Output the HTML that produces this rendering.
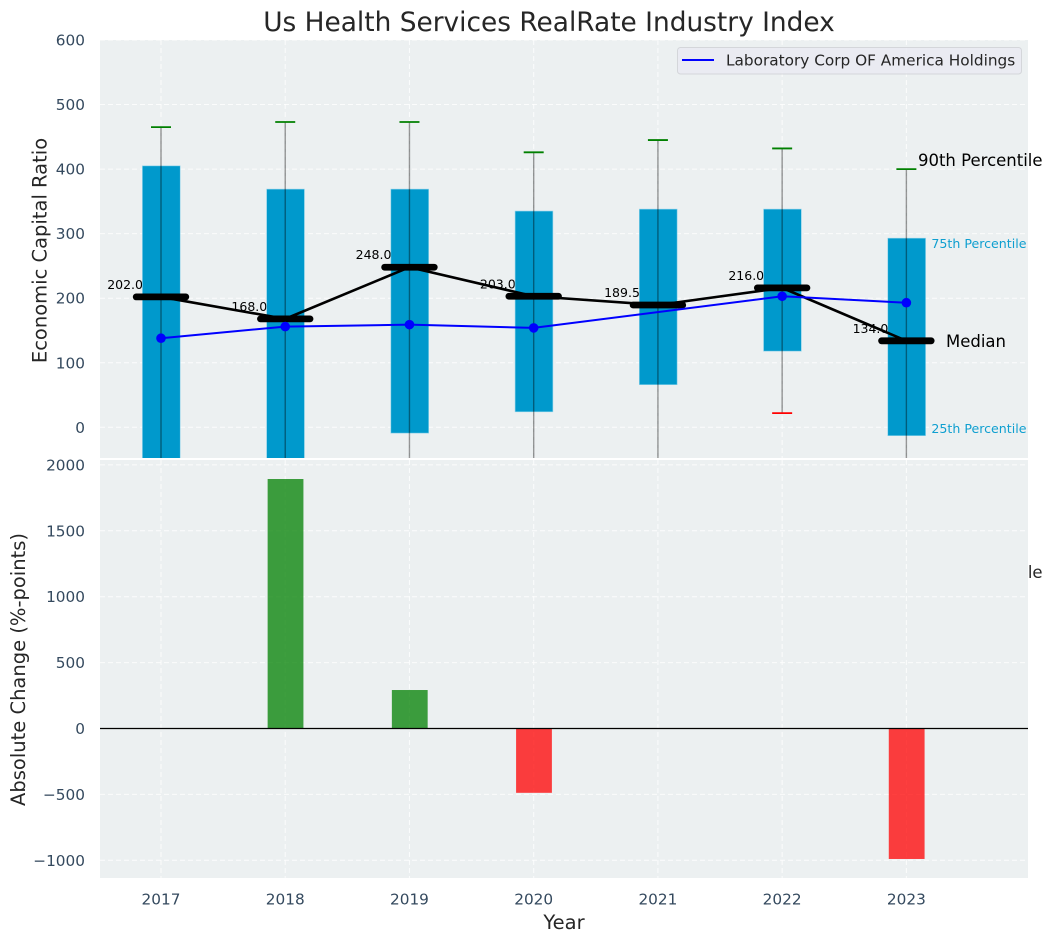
<!DOCTYPE html>
<html lang="en">
<head>
<meta charset="utf-8">
<title>Us Health Services RealRate Industry Index</title>
<style>
html,body{margin:0;padding:0;background:#fff;width:1053px;height:942px;overflow:hidden}
svg{display:block;font-family:"DejaVu Sans","Liberation Sans",sans-serif}
</style>
</head>
<body>
<svg id="chart" xmlns="http://www.w3.org/2000/svg" width="1053" height="942" viewBox="0 0 1053 942">
  <defs>
    <clipPath id="clip-top"><rect x="100" y="40" width="928" height="418"/></clipPath>
    <clipPath id="clip-bottom"><rect x="100" y="460" width="928" height="418"/></clipPath>
  </defs>
  <text x="549" y="31" text-anchor="middle" font-size="26.4" fill="#262626">Us Health Services RealRate Industry Index</text>
  <text x="0" y="0" transform="translate(46.5 250.5) rotate(-90)" text-anchor="middle" font-size="19.5" fill="#262626">Economic Capital Ratio</text>
  <text x="0" y="0" transform="translate(25 669.5) rotate(-90)" text-anchor="middle" font-size="19.5" fill="#262626">Absolute Change (%-points)</text>
  <text x="564" y="929" text-anchor="middle" font-size="19.5" fill="#262626">Year</text>
  <g id="top-axes"></g>
  <g id="bottom-axes"></g>
  <g id="overlay"></g>
</svg>
<script>
var years = [2017, 2018, 2019, 2020, 2021, 2022, 2023];
var q25Values = [-60, -60, -9, 24, 66, 118, -13];
var q75Values = [405, 369, 369, 335, 338, 338, 293];
var medianValues = [202, 168, 248, 203, 189.5, 216, 134];
var medianLabels = ['202.0', '168.0', '248.0', '203.0', '189.5', '216.0', '134.0'];
var whiskerHighValues = [465, 473, 473, 426, 445, 432, 400];
var whiskerLowValues = [-120, -120, -90, -100, -90, 22, -110];
var companyValues = [138, 156, 159, 154, null, 203, 193];
var changeValues = [0, 1893, 292, -488, 0, 0, -990];
var topTicks = [0, 100, 200, 300, 400, 500, 600];
var bottomTicks = [-1000, -500, 0, 500, 1000, 1500, 2000];
var bottomTickLabels = ['\u22121000', '\u2212500', '0', '500', '1000', '1500', '2000'];

var NS = 'http://www.w3.org/2000/svg';
function x(v) { return 161 + (v - 2017) * 124.23; }
function yTop(v) { return 427.3 - v * 0.6455; }
function yBottom(v) { return 728.5 - v * 0.1318; }

function make(tag, attrs, parent) {
  var n = document.createElementNS(NS, tag);
  for (var k in attrs) { n.setAttribute(k, attrs[k]); }
  parent.appendChild(n);
  return n;
}

var topAxes = document.getElementById('top-axes');
var bottomAxes = document.getElementById('bottom-axes');
var overlay = document.getElementById('overlay');
var el, i;

/* ---------- top panel ---------- */
el = make('rect', {x: 100, y: 40, width: 928, height: 418, fill: '#ecf0f1'}, topAxes);



topTicks.forEach(function (t) {
  var g = make('line', {x1: 100, x2: 1028, y1: yTop(t), y2: yTop(t), stroke: '#fff', 'stroke-width': 1, 'stroke-dasharray': '5 3', opacity: 0.8}, topAxes);
  
  
  var l = make('text', {x: 85, y: yTop(t) + 5.5, 'text-anchor': 'end', 'font-size': 15.3, fill: '#34495e'}, topAxes);
  
  
  l.textContent = String(t);
});

years.forEach(function (yr) {
  var g = make('line', {x1: x(yr), x2: x(yr), y1: 40, y2: 458, stroke: '#fff', 'stroke-width': 1, 'stroke-dasharray': '5 3', opacity: 0.8}, topAxes);
  
  
});

var topPlot = make('g', {'clip-path': 'url(#clip-top)'}, topAxes);



/* median value labels sit beneath the bars */
years.forEach(function (yr, idx) {
  var t = make('text', {x: x(yr) - 18, y: yTop(medianValues[idx]) - 8, 'text-anchor': 'end', 'font-size': 12.5, fill: '#000'}, topPlot);
  
  
  t.textContent = medianLabels[idx];
});

/* interquartile bars */
years.forEach(function (yr, idx) {
  var b = make('rect', {x: x(yr) - 18.6, width: 37.8, y: yTop(q75Values[idx]), height: yTop(q25Values[idx]) - yTop(q75Values[idx]), fill: '#0099cc', stroke: '#8fd3ea', 'stroke-width': 0.6}, topPlot);
  
  
});

/* whiskers and caps */
years.forEach(function (yr, idx) {
  var w = make('line', {x1: x(yr), x2: x(yr), y1: yTop(whiskerHighValues[idx]), y2: yTop(whiskerLowValues[idx]), stroke: '#000', 'stroke-opacity': 0.4, 'stroke-width': 1.4}, topPlot);
  
  
  var hi = make('line', {x1: x(yr) - 10, x2: x(yr) + 10, y1: yTop(whiskerHighValues[idx]), y2: yTop(whiskerHighValues[idx]), stroke: '#008000', 'stroke-width': 1.8}, topPlot);
  
  
  var lo = make('line', {x1: x(yr) - 10, x2: x(yr) + 10, y1: yTop(whiskerLowValues[idx]), y2: yTop(whiskerLowValues[idx]), stroke: '#ff0000', 'stroke-width': 1.8}, topPlot);
  
  
});

/* median line */
var medianPts = years.map(function (yr, idx) { return x(yr) + ',' + yTop(medianValues[idx]); }).join(' ');
el = make('polyline', {points: medianPts, fill: 'none', stroke: '#000', 'stroke-width': 2.6}, topPlot);



years.forEach(function (yr, idx) {
  var m = make('line', {x1: x(yr) - 24.8, x2: x(yr) + 24.8, y1: yTop(medianValues[idx]), y2: yTop(medianValues[idx]), stroke: '#000', 'stroke-width': 6.8, 'stroke-linecap': 'round'}, topPlot);
  
  
});

/* company series */
var companyPts = [];
years.forEach(function (yr, idx) {
  if (companyValues[idx] !== null) { companyPts.push(x(yr) + ',' + yTop(companyValues[idx])); }
});
el = make('polyline', {points: companyPts.join(' '), fill: 'none', stroke: '#0000ff', 'stroke-width': 2}, topPlot);


years.forEach(function (yr, idx) {
  if (companyValues[idx] === null) { return; }
  var p = make('circle', {cx: x(yr), cy: yTop(companyValues[idx]), r: 4.8, fill: '#0000ff'}, topPlot);
  
  
});

/* label hidden by the lower panel apart from the part beyond the plot edge */
var lastIdx = years.length - 1;
el = make('text', {x: 918, y: 578, 'font-size': 16.5, fill: '#262626'}, topAxes);


el.textContent = '10th Percentile';

/* ---------- bottom panel ---------- */
el = make('rect', {x: 100, y: 460, width: 928, height: 418, fill: '#ecf0f1'}, bottomAxes);



bottomTicks.forEach(function (t, idx) {
  var g = make('line', {x1: 100, x2: 1028, y1: yBottom(t), y2: yBottom(t), stroke: '#fff', 'stroke-width': 1, 'stroke-dasharray': '5 3', opacity: 0.8}, bottomAxes);
  
  
  var l = make('text', {x: 85, y: yBottom(t) + 5.5, 'text-anchor': 'end', 'font-size': 15.3, fill: '#34495e'}, bottomAxes);
  
  
  l.textContent = bottomTickLabels[idx];
});

years.forEach(function (yr) {
  var g = make('line', {x1: x(yr), x2: x(yr), y1: 460, y2: 878, stroke: '#fff', 'stroke-width': 1, 'stroke-dasharray': '5 3', opacity: 0.8}, bottomAxes);
  
  
  var l = make('text', {x: x(yr), y: 904.5, 'text-anchor': 'middle', 'font-size': 15.3, fill: '#34495e'}, bottomAxes);
  
  
  l.textContent = String(yr);
});

var bottomPlot = make('g', {'clip-path': 'url(#clip-bottom)'}, bottomAxes);



years.forEach(function (yr, idx) {
  var v = changeValues[idx];
  if (v === 0) { return; }
  var top = Math.min(yBottom(v), yBottom(0));
  var h = Math.abs(yBottom(v) - yBottom(0));
  var c = make('rect', {x: x(yr) - 17.6, width: 35.8, y: top, height: h, fill: v > 0 ? '#008000' : '#ff0000', 'fill-opacity': 0.75}, bottomPlot);
  
  
});

el = make('line', {x1: 100, x2: 1028, y1: yBottom(0), y2: yBottom(0), stroke: '#000', 'stroke-width': 1.2}, bottomPlot);



/* ---------- annotations drawn on top ---------- */
var xLast = x(years[lastIdx]);
el = make('text', {x: xLast + 11.6, y: yTop(whiskerHighValues[lastIdx]) - 3, 'font-size': 16.5, fill: '#000'}, overlay);


el.textContent = '90th Percentile';

el = make('text', {x: xLast + 25, y: yTop(q75Values[lastIdx]) + 10, 'font-size': 12.6, fill: '#0f9fd0'}, overlay);


el.textContent = '75th Percentile';

el = make('text', {x: xLast + 39.6, y: yTop(medianValues[lastIdx]) + 6, 'font-size': 16.5, fill: '#000'}, overlay);


el.textContent = 'Median';

el = make('text', {x: xLast + 25, y: yTop(q25Values[lastIdx]) - 2.5, 'font-size': 12.6, fill: '#0f9fd0'}, overlay);


el.textContent = '25th Percentile';

/* legend */
el = make('rect', {x: 677.5, y: 47.5, width: 344, height: 26.5, rx: 3, fill: '#eaeaf2', 'fill-opacity': 0.85, stroke: '#d4d6da', 'stroke-width': 1}, overlay);


el = make('line', {x1: 682, x2: 714, y1: 60, y2: 60, stroke: '#0000ff', 'stroke-width': 2}, overlay);


el = make('text', {x: 726, y: 65.5, 'font-size': 15.3, fill: '#262626'}, overlay);


el.textContent = 'Laboratory Corp OF America Holdings';
</script>
</body>
</html>
